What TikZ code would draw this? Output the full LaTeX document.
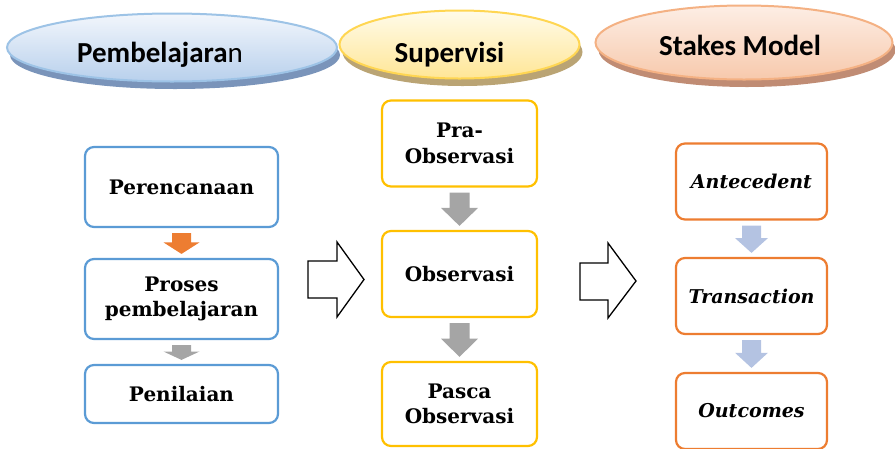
\documentclass[tikz,border=0pt]{standalone}
\usepackage{fontspec}
\setmainfont{DejaVu Serif}
\newfontfamily\titlefont{Carlito}
\usetikzlibrary{calc}

\definecolor{blueline}{HTML}{5B9BD5}
\definecolor{goldline}{HTML}{FFC000}
\definecolor{orangeline}{HTML}{ED7D31}
\definecolor{greyarrow}{HTML}{A5A5A5}
\definecolor{paleblue}{HTML}{B4C3E2}
% heading ovals: border, top, bottom, shadow
\definecolor{ovBline}{RGB}{157,195,230}
\definecolor{ovBtop}{RGB}{242,246,252}
\definecolor{ovBbot}{RGB}{184,208,236}
\definecolor{ovBshadow}{RGB}{122,148,186}
\definecolor{ovYline}{RGB}{255,214,82}
\definecolor{ovYtop}{RGB}{255,251,234}
\definecolor{ovYbot}{RGB}{255,230,150}
\definecolor{ovYshadow}{RGB}{186,164,116}
\definecolor{ovOline}{RGB}{244,177,131}
\definecolor{ovOtop}{RGB}{253,238,229}
\definecolor{ovObot}{RGB}{247,201,172}
\definecolor{ovOshadow}{RGB}{192,140,116}

\tikzset{
  titletext/.style={anchor=base, inner sep=0pt,
    font=\titlefont\fontsize{29}{30}\selectfont},
  stepbox/.style={draw, rectangle, rounded corners=9pt, line width=2.2pt,
    fill=white, align=center, inner sep=2pt,
    font=\bfseries\fontsize{20}{25.5}\selectfont},
  bluebox/.style={stepbox, draw=blueline, minimum width=193pt},
  goldbox/.style={stepbox, draw=goldline, minimum width=155pt},
  orangebox/.style={stepbox, draw=orangeline, minimum width=151pt,
    font=\bfseries\itshape\fontsize{19}{25}\selectfont},
  hollow/.style={draw=black, line width=1.3pt, fill=white, line join=miter}
}

% one heading oval: #1 centre, #2 x radius, #3 y radius, #4 colour set
\newcommand\headoval[4]{%
  \fill[ov#4shadow] ($#1+(3,7.5)$) ellipse [x radius=#2, y radius=#3];
  \shade[top color=ov#4top, bottom color=ov#4bot, draw=ov#4line, line width=2pt]
    #1 ellipse [x radius=#2, y radius=#3];}

% block arrow pointing down between two stacked nodes
% #1 fill colour, #2 upper node, #3 lower node, #4 shaft half width, #5 head half width
\newcommand\blockdown[5]{%
  \fill[#1]
    ($(#2.south)+(-#4,5)$) -- ($(#2.south)+(#4,5)$) --
    ($(#2.south)!0.48!(#3.north)+(#4,0)$) -- ($(#2.south)!0.48!(#3.north)+(#5,0)$) --
    ($(#3.north)+(0,-4)$) --
    ($(#2.south)!0.48!(#3.north)+(-#5,0)$) -- ($(#2.south)!0.48!(#3.north)+(-#4,0)$) -- cycle;}

\begin{document}
\begin{tikzpicture}[x=1pt,y=-1pt]
\useasboundingbox (0,0) rectangle (895,448);

% column headings
\headoval{(172,47.5)}{165}{34}{B}
\headoval{(459.5,44.5)}{120}{34}{Y}
\headoval{(744,42.5)}{148.5}{37}{O}

\node[titletext] (h1) at (160,62) {\textbf{Pembelajara}n};
\node[titletext] (h2) at (449.5,62) {\textbf{Supervisi}};
\node[titletext] (h3) at (740,55) {\textbf{Stakes Model}};

% learning column
\node[bluebox, minimum height=80pt] (p1) at (181.5,187) {Perencanaan};
\node[bluebox, minimum height=80pt] (p2) at (181.5,299) {Proses\\pembelajaran};
\node[bluebox, minimum height=58pt] (p3) at (181.5,394) {Penilaian};
\blockdown{orangeline}{p1}{p2}{9.5}{18}
\blockdown{greyarrow}{p2}{p3}{9.5}{18}

% supervision column
\node[goldbox, minimum height=86pt] (s1) at (459.5,143.5) {Pra-\\Observasi};
\node[goldbox, minimum height=86pt] (s2) at (459.5,274) {Observasi};
\node[goldbox, minimum height=84pt] (s3) at (459.5,404) {Pasca\\Observasi};
\blockdown{greyarrow}{s1}{s2}{10}{18.5}
\blockdown{greyarrow}{s2}{s3}{10}{18.5}

% Stake model column
\node[orangebox, minimum height=76pt] (m1) at (751.5,181.5) {Antecedent};
\node[orangebox, minimum height=76pt] (m2) at (751.5,296) {Transaction};
\node[orangebox, minimum height=76pt] (m3) at (751.5,411) {Outcomes};
\blockdown{paleblue}{m1}{m2}{9.5}{16.5}
\blockdown{paleblue}{m2}{m3}{9.5}{16.5}

% hollow arrows between the columns
\draw[hollow] (308,261) -- (337,261) -- (337,242) -- (364,279.5) -- (337,317)
  -- (337,298) -- (308,298) -- cycle;
\draw[hollow] (580,263) -- (608,263) -- (608,243) -- (636,281) -- (608,318)
  -- (608,300) -- (580,300) -- cycle;
\end{tikzpicture}
\end{document}
